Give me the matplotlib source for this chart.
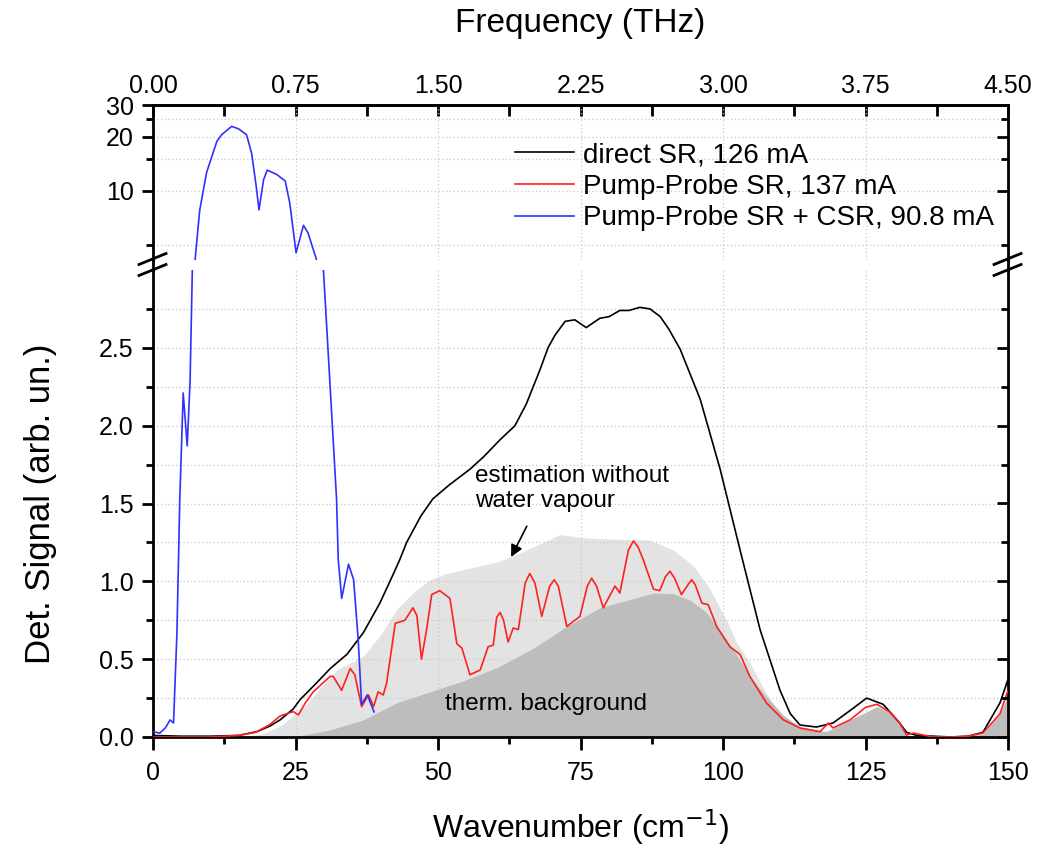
import matplotlib
matplotlib.use("Agg")
import matplotlib.pyplot as plt
from matplotlib.lines import Line2D
from matplotlib.ticker import MultipleLocator, FixedLocator, NullFormatter, FormatStrFormatter

plt.rcParams['font.family'] = ['Liberation Sans', 'DejaVu Sans']

# ---------------- data ----------------
black_x = [0, 5, 10, 15, 18.2, 20.5, 22.3, 24.6, 25.8, 28.5, 31.1, 34, 36.9, 39.8, 42.2, 43.3, 44.5, 47, 49.1,
           52, 55.6, 58, 60.9, 63.5, 65.5, 67.9, 69.3, 70.5, 72.3, 74, 76, 78.4, 80, 81.9, 83.5, 85.4, 87.2, 89,
           90.5, 92.5, 96, 99.5, 103, 106.5, 110, 111.8, 113.5, 116.4, 119.3, 122.3, 125.2, 128.1, 131, 132.2,
           134, 140, 143, 145.6, 148.6, 150]
black_y = [0.01, 0.005, 0.005, 0.01, 0.034, 0.07, 0.11, 0.18, 0.24, 0.34, 0.44, 0.53, 0.67, 0.86, 1.05, 1.14,
           1.25, 1.42, 1.53, 1.62, 1.72, 1.80, 1.91, 2.0, 2.14, 2.36, 2.5, 2.58, 2.67, 2.68, 2.63, 2.69, 2.70,
           2.74, 2.74, 2.76, 2.75, 2.70, 2.62, 2.49, 2.17, 1.72, 1.2, 0.69, 0.30, 0.15, 0.077, 0.064, 0.09, 0.17,
           0.25, 0.21, 0.09, 0.03, 0.01, 0.0, 0.005, 0.03, 0.22, 0.37]

red_x = [0, 5, 10, 15, 18, 20.5, 22.3, 24.6, 25.5, 26.7, 28.1, 31.1, 31.6, 33.1, 34.6, 35.4, 36.6, 37.8, 38.7,
         39.5, 40.4, 41, 42.5, 44.2, 45.6, 46.3, 47.1, 48.0, 48.9, 50.3, 52.1, 53.3, 54.2, 55.6, 57.4, 58.8,
         59.7, 60.3, 60.9, 61.5, 62.3, 63.2, 64.1, 65.3, 66.1, 67.0, 68.2, 69.6, 70.4, 71.1, 72.6, 74.9, 76.2,
         76.96, 77.8, 79.0, 81.05, 81.9, 83.4, 84.3, 85.1, 86.0, 87.8, 88.9, 89.9, 90.7, 91.5, 92.7, 93.9, 94.5,
         95.1, 96.3, 97.4, 98.9, 101.2, 103, 104.7, 107.6, 110.6, 113.5, 117, 118.5, 119.3, 122.3, 125, 127,
         129.3, 131, 132.2, 133.4, 136.9, 140, 143, 145.6, 148.6, 150]
red_y = [0.0, 0.0, 0.0, 0.01, 0.03, 0.08, 0.135, 0.163, 0.142, 0.217, 0.29, 0.39, 0.39, 0.30, 0.44, 0.40, 0.195,
         0.27, 0.195, 0.29, 0.27, 0.35, 0.73, 0.75, 0.83, 0.78, 0.50, 0.69, 0.915, 0.94, 0.89, 0.60, 0.57, 0.40,
         0.43, 0.58, 0.59, 0.77, 0.80, 0.75, 0.61, 0.70, 0.69, 0.99, 1.05, 0.99, 0.775, 0.97, 1.01, 0.97, 0.71,
         0.775, 0.97, 1.02, 0.97, 0.83, 0.97, 0.925, 1.20, 1.26, 1.22, 1.14, 0.95, 0.94, 1.03, 1.065, 1.02,
         0.915, 0.98, 1.01, 0.98, 0.86, 0.85, 0.71, 0.58, 0.53, 0.39, 0.22, 0.11, 0.058, 0.034, 0.09, 0.058,
         0.11, 0.19, 0.21, 0.16, 0.09, 0.013, 0.025, 0.0, 0.0, 0.005, 0.025, 0.15, 0.30]

blue_x = [0.05, 1.2, 2.2, 3.0, 3.6, 4.2, 4.7, 5.3, 6.0, 6.5, 6.9, 7.4, 8.2, 9.4, 11.2, 12.05, 13.8, 15.0, 16.4,
          17.3, 18.1, 18.6, 19.4, 20.05, 21.7, 23.2, 24.0, 25.1, 26.4, 27.2, 28.6, 29.9, 31.0, 32.2, 32.5, 33.1,
          34.3, 35.2, 36.0, 36.6, 37.6, 38.8]
blue_y = [0.034, 0.025, 0.06, 0.11, 0.09, 0.67, 1.53, 2.21, 1.87, 2.28, 3.0, 4.16, 7.8, 12.6, 18.8, 20.5, 22.8,
          22.1, 20.5, 16.2, 10.6, 7.8, 11.5, 13.0, 12.3, 11.3, 8.5, 4.5, 6.4, 5.8, 4.2, 3.0, 2.30, 1.53, 1.14,
          0.89, 1.11, 1.01, 0.625, 0.21, 0.27, 0.16]

est_x = [16, 19, 22.3, 26.7, 29, 32.2, 36.9, 39.8, 42.8, 45.7, 48.6, 51.5, 57.4, 60.9, 66.7, 71.4, 75.5, 81.3,
         87.2, 91.3, 94.8, 97.7, 100.6, 102.5, 104.7, 107.6, 110.6, 113.5, 117, 120]
est_y = [0.0, 0.02, 0.07, 0.2, 0.3, 0.43, 0.52, 0.65, 0.82, 0.93, 1.01, 1.05, 1.10, 1.13, 1.22, 1.30, 1.28, 1.27,
         1.265, 1.20, 1.10, 0.95, 0.75, 0.60, 0.48, 0.28, 0.12, 0.06, 0.03, 0.06]

bg_x = [22.3, 26, 31, 36.9, 42.8, 48.6, 54.4, 60.6, 66.7, 72.6, 78.4, 84.3, 87.8, 91.3, 94.2, 97.1, 100.6, 102.5,
        104.7, 107.6, 110.6, 113.5, 118.2, 122.3, 127, 129.3, 131, 132.2, 134, 140, 143, 145.6, 148.6, 150]
bg_y = [0.0, 0.01, 0.045, 0.11, 0.22, 0.29, 0.36, 0.45, 0.57, 0.71, 0.83, 0.89, 0.925, 0.92, 0.88, 0.80, 0.625,
        0.52, 0.39, 0.26, 0.14, 0.066, 0.034, 0.11, 0.195, 0.16, 0.09, 0.01, 0.01, 0.0, 0.003, 0.02, 0.15, 0.27]

labels = ["direct SR, 126 mA", "Pump-Probe SR, 137 mA", "Pump-Probe SR + CSR, 90.8 mA"]
freq_ticks = [0.00, 0.75, 1.50, 2.25, 3.00, 3.75, 4.50]

# ---------------- figure ----------------
W, H = 1053, 847
fig = plt.figure(figsize=(W / 100, H / 100), dpi=100)
L, R = 153 / W, 1008 / W
up_top, up_bot = 1 - 105 / H, 1 - 260 / H
lo_top, lo_bot = 1 - 270 / H, 1 - 737 / H
ax_up = fig.add_axes([L, up_bot, R - L, up_top - up_bot])
ax_lo = fig.add_axes([L, lo_bot, R - L, lo_top - lo_bot])

grid_kw = dict(color='#c8c8c8', linestyle=(0, (1, 2)), linewidth=0.9)
TS = 18
line_kw = dict(lw=1.2, solid_joinstyle='round', solid_capstyle='round')

for ax in (ax_up, ax_lo):
    ax.fill_between(est_x, est_y, 0, color='#e3e3e3', linewidth=0, zorder=1)
    ax.fill_between(bg_x, bg_y, 0, color='#bdbdbd', linewidth=0, zorder=2)
    ax.plot(black_x, black_y, color='black', zorder=4, **line_kw)
    ax.plot(red_x, red_y, color='#ff2020', zorder=5, **line_kw)
    ax.plot(blue_x, blue_y, color='#3030ff', zorder=6, **line_kw)
    ax.set_xlim(0, 150)
    ax.xaxis.set_major_locator(MultipleLocator(25))
    ax.xaxis.set_minor_locator(MultipleLocator(12.5))
    for s in ax.spines.values():
        s.set_linewidth(2)
    ax.tick_params(which='both', labelsize=TS, width=2)
    ax.grid(True, axis='x', which='major', **grid_kw)

# upper panel (log)
up_lim = (4.1, 30)
ax_up.set_yscale('log')
ax_up.set_ylim(*up_lim)
ax_up.yaxis.set_major_locator(FixedLocator([10, 20, 30]))
ax_up.yaxis.set_minor_locator(FixedLocator([5, 15, 25]))
ax_up.yaxis.set_major_formatter(FormatStrFormatter('%d'))
ax_up.yaxis.set_minor_formatter(NullFormatter())
ax_up.grid(True, axis='y', which='both', **grid_kw)
ax_up.spines['bottom'].set_visible(False)
ax_up.tick_params(axis='x', which='both', bottom=False, labelbottom=False, top=False)
ax_up.tick_params(axis='y', which='major', left=True, right=False, direction='out', length=8, pad=6)
ax_up.tick_params(axis='y', which='minor', left=True, right=False, direction='out', length=5)

rup = ax_up.twinx()
rup.set_yscale('log')
rup.set_ylim(*up_lim)
rup.yaxis.set_major_locator(FixedLocator([10, 20, 30]))
rup.yaxis.set_minor_locator(FixedLocator([5, 15, 25]))
rup.yaxis.set_major_formatter(NullFormatter())
rup.yaxis.set_minor_formatter(NullFormatter())
rup.tick_params(axis='y', which='major', direction='in', length=8, width=2)
rup.tick_params(axis='y', which='minor', direction='in', length=5, width=2)
for s in rup.spines.values():
    s.set_visible(False)

# secondary top axis: frequency
sec = ax_up.secondary_xaxis('top', functions=(lambda k: k * 0.03, lambda f: f / 0.03))
sec.xaxis.set_major_locator(FixedLocator(freq_ticks))
sec.xaxis.set_minor_locator(MultipleLocator(0.375))
sec.xaxis.set_major_formatter(FormatStrFormatter('%.2f'))
sec.tick_params(which='major', direction='in', length=8, width=2, labelsize=TS, pad=5)
sec.tick_params(which='minor', direction='in', length=8, width=2)
sec.spines['top'].set_linewidth(2)
sec.set_xlabel('Frequency (THz)', fontsize=24, labelpad=30)

# lower panel
lo_lim = (0, 3.0)
ax_lo.set_ylim(*lo_lim)
lo_major = [0.0, 0.5, 1.0, 1.5, 2.0, 2.5]
lo_minor = [0.25, 0.75, 1.25, 1.75, 2.25, 2.75]
ax_lo.yaxis.set_major_locator(FixedLocator(lo_major))
ax_lo.yaxis.set_minor_locator(FixedLocator(lo_minor))
ax_lo.yaxis.set_major_formatter(FormatStrFormatter('%.1f'))
ax_lo.grid(True, axis='y', which='both', **grid_kw)
ax_lo.spines['top'].set_visible(False)
ax_lo.tick_params(axis='x', which='major', direction='out', length=9, top=False, pad=8)
ax_lo.tick_params(axis='x', which='minor', direction='out', length=5, top=False)
ax_lo.tick_params(axis='y', which='major', left=True, right=False, direction='out', length=8, pad=6)
ax_lo.tick_params(axis='y', which='minor', left=True, right=False, direction='out', length=5)
ax_lo.xaxis.set_major_formatter(FormatStrFormatter('%d'))
ax_lo.set_xlabel('Wavenumber (cm$^{-1}$)', fontsize=23, labelpad=16)
ax_lo.set_ylabel('Det. Signal (arb. un.)', fontsize=25)
ax_lo.yaxis.set_label_coords(-0.112, 0.5)

rlo = ax_lo.twinx()
rlo.set_ylim(*lo_lim)
rlo.yaxis.set_major_locator(FixedLocator(lo_major))
rlo.yaxis.set_minor_locator(FixedLocator(lo_minor))
rlo.yaxis.set_major_formatter(NullFormatter())
rlo.tick_params(axis='y', which='major', direction='in', length=8, width=2)
rlo.tick_params(axis='y', which='minor', direction='in', length=5, width=2)
for s in rlo.spines.values():
    s.set_visible(False)

# annotations
ax_lo.text(56.5, 1.75, 'estimation without\nwater vapour', fontsize=17.5, va='top', ha='left', linespacing=1.2)
ax_lo.annotate('', xy=(62.6, 1.14), xytext=(65.8, 1.37),
               arrowprops=dict(arrowstyle='-|>', color='black', lw=1.2, mutation_scale=18))
ax_lo.text(51.2, 0.21, 'therm. background', fontsize=17.5, va='center', ha='left')

# legend
handles = [Line2D([], [], color='black', lw=1.2), Line2D([], [], color='#ff2020', lw=1.2),
           Line2D([], [], color='#3030ff', lw=1.2)]
ax_up.legend(handles, labels, loc='upper left', bbox_to_anchor=(0.423, 0.76), frameon=False, fontsize=20,
             handlelength=2.15, handletextpad=0.3, labelspacing=0.2, borderaxespad=0, borderpad=0)

# axis-break marks
def brk(xpix):
    for yc in (259, 270):
        x0, x1 = xpix - 14, xpix + 13
        y0, y1 = yc + 5.5, yc - 5.5
        fig.add_artist(Line2D([x0 / W, x1 / W], [1 - y0 / H, 1 - y1 / H], color='black', lw=2))
brk(153)
brk(1008)
for xpix in (153, 1008):
    fig.add_artist(Line2D([xpix / W, xpix / W], [up_bot, lo_top], color='black', lw=2))

fig.savefig('out.png', dpi=100)
